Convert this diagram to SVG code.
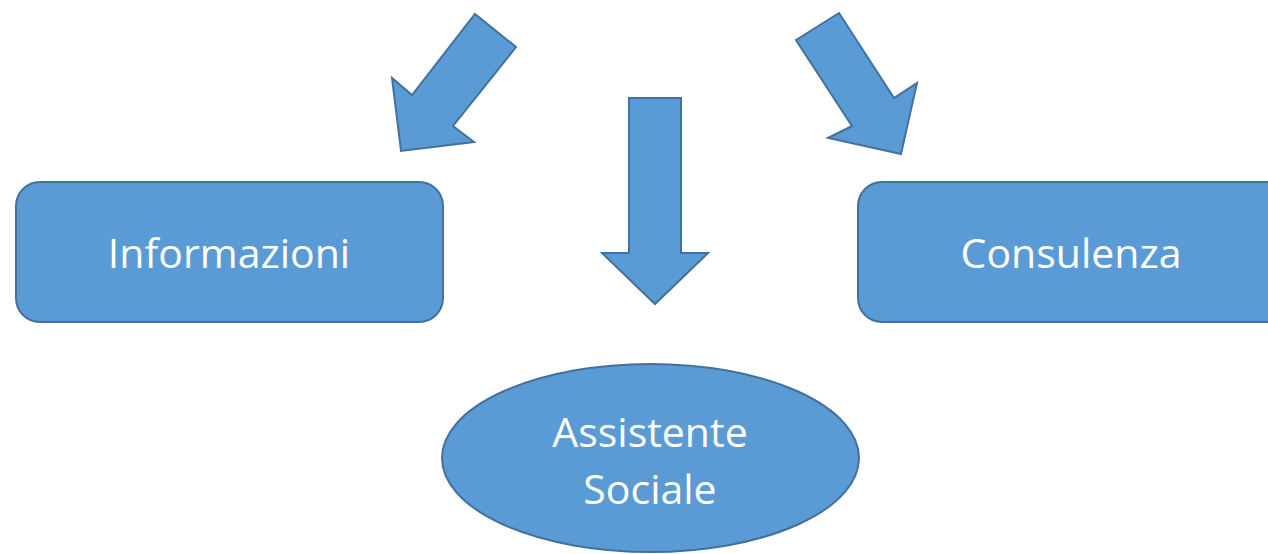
<svg xmlns="http://www.w3.org/2000/svg" width="1268" height="554" viewBox="0 0 1268 554">
<style>
.shape{fill:#5B9BD5;stroke:#41719C;stroke-width:2;stroke-linejoin:miter}
.lbl{fill:#FFFFFF;font-family:"Open Sans","Noto Sans",sans-serif;font-size:41px;text-anchor:middle}
</style>
<rect width="1268" height="554" fill="#FFFFFF"/>
<g id="connectors">
<polygon class="shape" points="475,14 516,47 453,126 474,142 401,151 392,78 412,95"/>
<polygon class="shape" points="629,98 681,98 681,253 708,253 655,304 602,253 629,253"/>
<polygon class="shape" points="796,40 839,13 894,98 917,83 901,154 828,138 852,126"/>
</g>
<g id="node-informazioni">
<rect class="shape" x="16" y="182" width="427" height="140" rx="24" ry="24"/>
<text class="lbl" x="229" y="268">Informazioni</text>
</g>
<g id="node-consulenza">
<rect class="shape" x="858" y="182" width="440" height="140" rx="24" ry="24"/>
<text class="lbl" x="1071" y="268">Consulenza</text>
</g>
<g id="node-assistente">
<ellipse class="shape" cx="650.5" cy="458" rx="208.5" ry="94"/>
<text class="lbl" x="650" y="447">Assistente</text>
<text class="lbl" x="650" y="504">Sociale</text>
</g>
</svg>
